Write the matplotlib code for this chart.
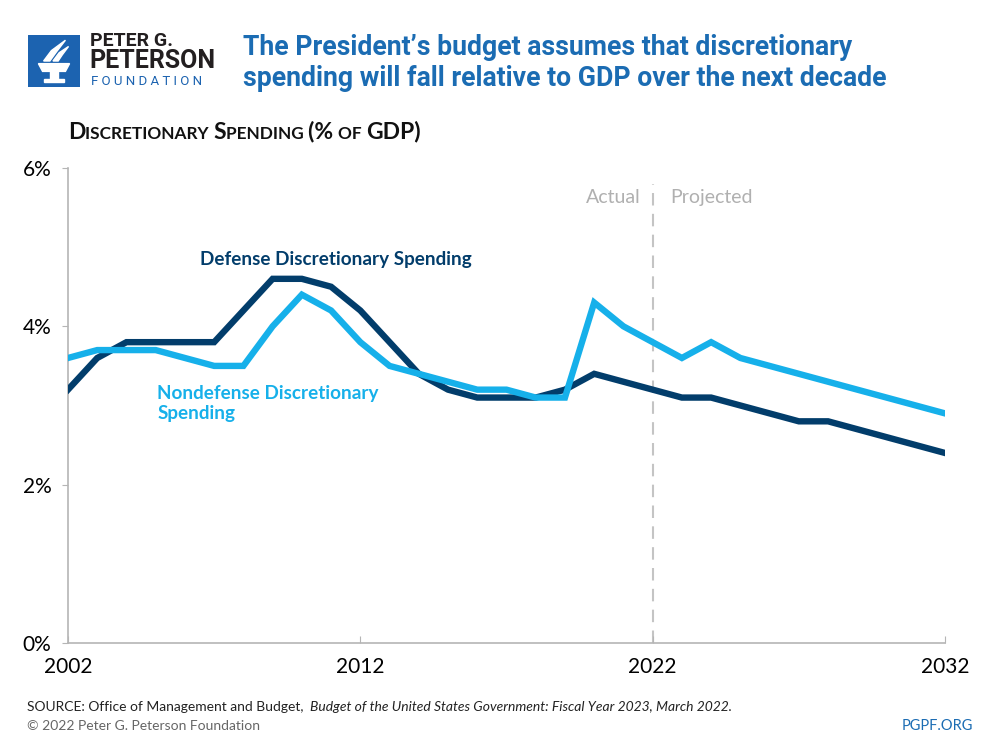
import matplotlib
matplotlib.use("Agg")
import matplotlib.pyplot as plt
from matplotlib.patches import Rectangle, Polygon

# datos (% del PIB)
anios = list(range(2002, 2033))
defensa = [3.2, 3.6, 3.8, 3.8, 3.8, 3.8, 4.2, 4.6, 4.6, 4.5, 4.2, 3.8, 3.4, 3.2, 3.1, 3.1,
           3.1, 3.2, 3.4, 3.3, 3.2, 3.1, 3.1, 3.0, 2.9, 2.8, 2.8, 2.7, 2.6, 2.5, 2.4]
no_defensa = [3.6, 3.7, 3.7, 3.7, 3.6, 3.5, 3.5, 4.0, 4.4, 4.2, 3.8, 3.5, 3.4, 3.3, 3.2, 3.2,
              3.1, 3.1, 4.3, 4.0, 3.8, 3.6, 3.8, 3.6, 3.5, 3.4, 3.3, 3.2, 3.1, 3.0, 2.9]
ticks_x = [2002, 2012, 2022, 2032]
ticks_y = [0, 2, 4, 6]
etiquetas_y = ["0%", "2%", "4%", "6%"]

azul_oscuro = "#023d6b"
azul_claro = "#16b0ea"
azul_titulo = "#1b6cb3"

plt.rcParams['font.family'] = ['Lato', 'DejaVu Sans']

fig = plt.figure(figsize=(10, 7.5), dpi=100)
ax = fig.add_axes([0.068, 0.1427, 0.877, 0.6333])

ax.plot(anios, defensa, color=azul_oscuro, lw=4.6, solid_joinstyle='miter', zorder=3)
ax.plot(anios, no_defensa, color=azul_claro, lw=4.6, solid_joinstyle='miter', zorder=4)

ax.set_xlim(2002, 2032)
ax.set_ylim(0, 6)
ax.set_xticks(ticks_x)
ax.set_yticks(ticks_y)
ax.set_yticklabels(etiquetas_y)
for s in ['top', 'right']:
    ax.spines[s].set_visible(False)
for s in ['left', 'bottom']:
    ax.spines[s].set_color("#b5b5b5")
    ax.spines[s].set_linewidth(1.2)
ax.tick_params(axis='y', direction='out', length=4, color="#b5b5b5", labelsize=15, pad=8)
ax.tick_params(axis='x', direction='in', length=5, color="#b5b5b5", labelsize=15, pad=10)

# linea actual / proyectado
ax.plot([2022, 2022], [0, 5.8], color="#c4c4c4", lw=1.5, ls=(0, (6, 4)), zorder=1)
ax.text(2021.6, 5.63, "Actual", ha='right', va='center', color="#b0b0b0", fontsize=14)
ax.text(2022.6, 5.63, "Projected", ha='left', va='center', color="#b0b0b0", fontsize=14)

ax.text(2006.5, 4.84, "Defense Discretionary Spending", color=azul_oscuro,
        fontsize=13.6, fontweight='bold', ha='left', va='center')
ax.text(2005.05, 3.26, "Nondefense Discretionary\nSpending", color=azul_claro,
        fontsize=13.6, fontweight='bold', ha='left', va='top', linespacing=1.2)

# titulo
fig.text(0.243, 0.916, "The President\u2019s budget assumes that discretionary\n"
         "spending will fall relative to GDP over the next decade",
         color=azul_titulo, fontsize=19.2, fontweight='bold', family=['Roboto', 'Lato'],
         ha='left', va='center', linespacing=1.2)

fig.canvas.draw()
render = fig.canvas.get_renderer()

# subtitulo en versalitas
partes = [("D", 16.5), ("ISCRETIONARY ", 12.4), ("S", 16.5), ("PENDING ", 12.4),
          ("(% ", 16.5), ("OF ", 12.4), ("GDP)", 16.5)]
x0 = 0.068
for txt, tam in partes:
    t = fig.text(x0, 0.815, txt, fontsize=tam, fontweight='bold', color="#111111",
                 ha='left', va='baseline')
    x0 += t.get_window_extent(renderer=render).width / fig.bbox.width

# pie
t = fig.text(0.027, 0.057, "SOURCE: Office of Management and Budget, ", fontsize=10,
             color="#222222", ha='left', va='center')
x1 = 0.027 + t.get_window_extent(renderer=render).width / fig.bbox.width + 0.003
fig.text(x1, 0.057, "Budget of the United States Government: Fiscal Year 2023, March 2022.",
         fontsize=10, style='italic', color="#222222", ha='left', va='center')
fig.text(0.027, 0.032, "\u00a9 2022 Peter G. Peterson Foundation", fontsize=10,
         color="#666666", ha='left', va='center')
fig.text(0.973, 0.032, "PGPF.ORG", fontsize=10.5, color=azul_titulo, ha='right', va='center')

# logo
logo = fig.add_axes([0.028, 0.884, 0.052, 0.0693])
logo.set_xlim(0, 1)
logo.set_ylim(0, 1)
logo.axis('off')
logo.add_patch(Rectangle((0, 0), 1, 1, color="#1c63b0"))
logo.add_patch(Polygon([(0.2, 0.45), (0.8, 0.45), (0.72, 0.3), (0.28, 0.3)], color='white'))
logo.add_patch(Rectangle((0.42, 0.12), 0.16, 0.18, color='white'))
logo.add_patch(Rectangle((0.3, 0.1), 0.4, 0.05, color='white'))
logo.add_patch(Polygon([(0.3, 0.5), (0.45, 0.7), (0.72, 0.9), (0.55, 0.68), (0.42, 0.5)], color='white'))
logo.add_patch(Polygon([(0.48, 0.5), (0.6, 0.66), (0.78, 0.78), (0.66, 0.62), (0.58, 0.5)], color='white'))
fig.text(0.090, 0.945, "PETER G.", fontsize=14, fontweight='bold', family=['Roboto', 'Lato'],
         color="#231f20", ha='left', va='center')
fig.text(0.089, 0.918, "PETERSON", fontsize=18, fontweight='bold', family=['Roboto', 'Lato'],
         color="#231f20", ha='left', va='center')
fig.text(0.091, 0.891, "F O U N D A T I O N", fontsize=9.5, family=['Roboto', 'Lato'],
         color="#1c63b0", ha='left', va='center')

fig.savefig("out.png", dpi=100, facecolor='white')
